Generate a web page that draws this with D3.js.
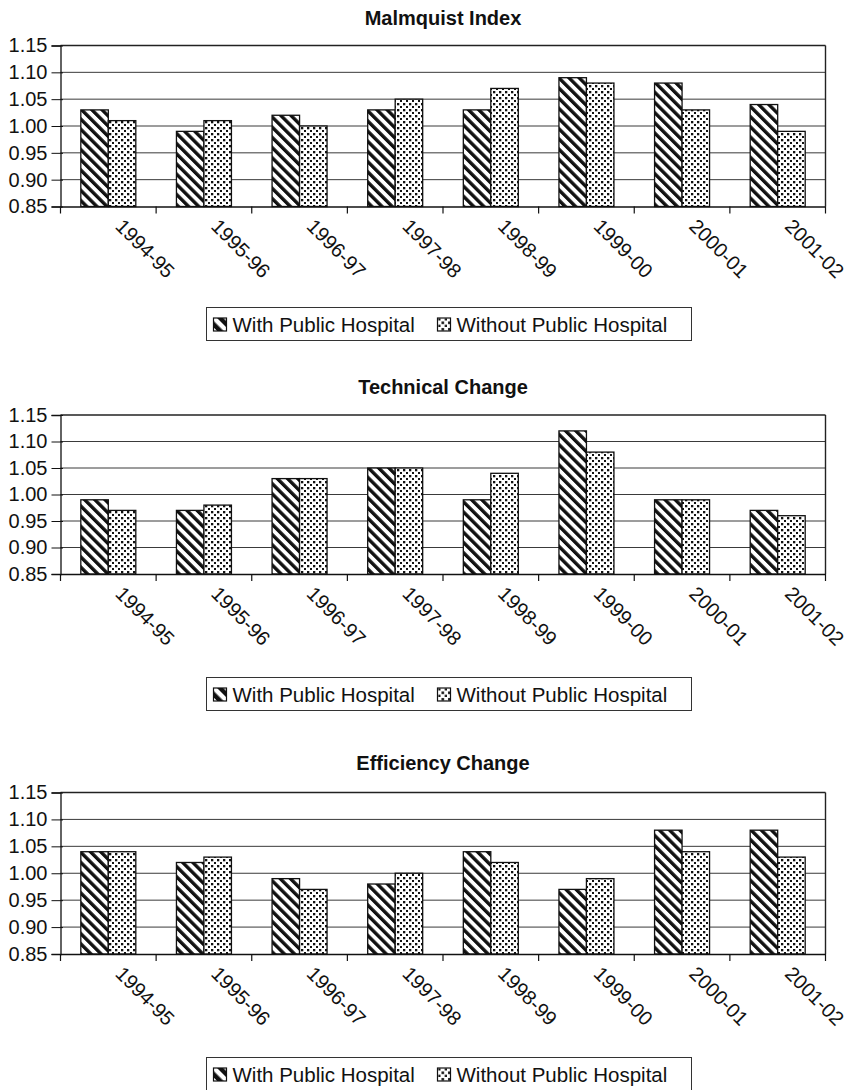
<!DOCTYPE html>
<html><head><meta charset="utf-8">
<script src="https://cdn.jsdelivr.net/npm/d3@7"></script>
<style>body{margin:0;background:#fff}svg{display:block}text{font-family:"Liberation Sans",Arial,Helvetica,sans-serif;fill:#111}</style>
</head><body><div id="c"></div>
<script>
const categories = ["1994-95","1995-96","1996-97","1997-98","1998-99","1999-00","2000-01","2001-02"];
const seriesNames = ["With Public Hospital","Without Public Hospital"];
const titles = ["Malmquist Index","Technical Change","Efficiency Change"];
const malmWith    = [1.03,0.99,1.02,1.03,1.03,1.09,1.08,1.04];
const malmWithout = [1.01,1.01,1.00,1.05,1.07,1.08,1.03,0.99];
const techWith    = [0.99,0.97,1.03,1.05,0.99,1.12,0.99,0.97];
const techWithout = [0.97,0.98,1.03,1.05,1.04,1.08,0.99,0.96];
const effWith     = [1.04,1.02,0.99,0.98,1.04,0.97,1.08,1.08];
const effWithout  = [1.04,1.03,0.97,1.00,1.02,0.99,1.04,1.03];
const yTicks = [0.85,0.90,0.95,1.00,1.05,1.10,1.15];

const datasets = [[malmWith,malmWithout],[techWith,techWithout],[effWith,effWithout]];
const layout = [
  {top:45.5, bottom:206.5, title:18, legend:307},
  {top:415, bottom:574, title:387, legend:677},
  {top:792.5, bottom:954, title:763, legend:1057}
];
const L = 60.5, R = 825.5;
const W = 851, H = 1090;
const svg = d3.select("#c").append("svg").attr("width",W).attr("height",H);
const defs = svg.append("defs");
function hatch(id, p, w){
  const pt = defs.append("pattern").attr("id",id).attr("patternUnits","userSpaceOnUse")
    .attr("width",p).attr("height",p).attr("patternTransform","rotate(-45)");
  pt.append("rect").attr("width",p).attr("height",p).attr("fill","#fff");
  pt.append("rect").attr("width",w).attr("height",p).attr("fill","#111");
}
function dots(id, p, s){
  const pt = defs.append("pattern").attr("id",id).attr("patternUnits","userSpaceOnUse")
    .attr("width",p).attr("height",p);
  pt.append("rect").attr("width",p).attr("height",p).attr("fill","#fff");
  pt.append("rect").attr("x",1).attr("y",1).attr("width",s).attr("height",s).attr("fill","#111");
  pt.append("rect").attr("x",p/2+1).attr("y",p/2+1).attr("width",s).attr("height",s).attr("fill","#111");
}
hatch("hatch",7.2,3.4); dots("dots",6,2.3);
hatch("hatchL",9,4.5); dots("dotsL",6.5,2.6);
const fills = ["url(#hatch)","url(#dots)"];
const fillsL = ["url(#hatchL)","url(#dotsL)"];

layout.forEach((lay, ci) => {
  const g = svg.append("g");
  const x = d3.scaleBand().domain(categories).range([L,R]).paddingInner(0).paddingOuter(0);
  const y = d3.scaleLinear().domain([0.85,1.15]).range([lay.bottom, lay.top]);
  const groupW = x.bandwidth()*0.575;
  const x1 = d3.scaleBand().domain([0,1]).range([0,groupW]);
  g.append("g").selectAll("line").data(yTicks.slice(1)).join("line")
    .attr("x1",L).attr("x2",R).attr("y1",d=>y(d)).attr("y2",d=>y(d))
    .attr("stroke",d=>d===1.15?"#222":"#3a3a3a").attr("stroke-width",d=>d===1.15?1.4:1);
  g.append("line").attr("x1",R).attr("x2",R).attr("y1",lay.top).attr("y2",lay.bottom).attr("stroke","#222").attr("stroke-width",1.4);
  const data = datasets[ci];
  [0,1].forEach(si=>{
    g.append("g").selectAll("rect").data(categories).join("rect")
      .attr("x",(c)=>x(c)+(x.bandwidth()-groupW)/2+x1(si))
      .attr("width",x1.bandwidth())
      .attr("y",(c,i)=>y(data[si][i]))
      .attr("height",(c,i)=>y(0.85)-y(data[si][i]))
      .attr("fill",fills[si]).attr("stroke","#111").attr("stroke-width",1.3);
  });
  const ya = d3.axisLeft(y).tickValues(yTicks).tickFormat(d3.format(".2f")).tickSize(9).tickPadding(4);
  const yg = g.append("g").attr("transform",`translate(${L},0)`).call(ya);
  yg.select(".domain").attr("stroke","#111").attr("stroke-width",1.3);
  yg.selectAll(".tick line").attr("stroke","#111").attr("x2",-9).attr("x1",2.5);
  yg.selectAll("text").style("font-size","20px").attr("fill","#111");
  const xa = d3.axisBottom(x).tickSize(0).tickFormat("");
  const xg = g.append("g").attr("transform",`translate(0,${lay.bottom})`).call(xa);
  xg.select(".domain").attr("stroke","#111").attr("stroke-width",1.3);
  xg.selectAll(".tick").remove();
  const bounds = categories.map(c=>x(c)).concat([x(categories[categories.length-1])+x.bandwidth()]);
  xg.selectAll("line.xt").data(bounds).join("line").attr("class","xt")
    .attr("x1",d=>d).attr("x2",d=>d).attr("y1",0).attr("y2",7).attr("stroke","#111").attr("stroke-width",1.2);
  xg.selectAll("text.xl").data(categories).join("text").attr("class","xl")
    .attr("transform",c=>`translate(${x(c)+x.bandwidth()/2+6},21) rotate(45)`)
    .attr("text-anchor","start").style("font-size","20px").text(c=>c);
  g.append("text").attr("x",(L+R)/2).attr("y",lay.title).attr("dy","0.35em")
    .attr("text-anchor","middle").style("font-size","20px").style("font-weight","bold").text(titles[ci]);
  const lg = g.append("g").attr("transform",`translate(206.5,${lay.legend+0.5})`);
  lg.append("rect").attr("width",485).attr("height",33).attr("fill","#fff").attr("stroke","#333").attr("stroke-width",1);
  const itemX = [7,231];
  seriesNames.forEach((s,si)=>{
    lg.append("rect").attr("x",itemX[si]).attr("y",10.5).attr("width",13).attr("height",13)
      .attr("fill",fillsL[si]).attr("stroke","#111").attr("stroke-width",1.2);
    lg.append("text").attr("x",itemX[si]+19).attr("y",17).attr("dy","0.35em")
      .style("font-size","20.5px").text(s);
  });
});
</script></body></html>
